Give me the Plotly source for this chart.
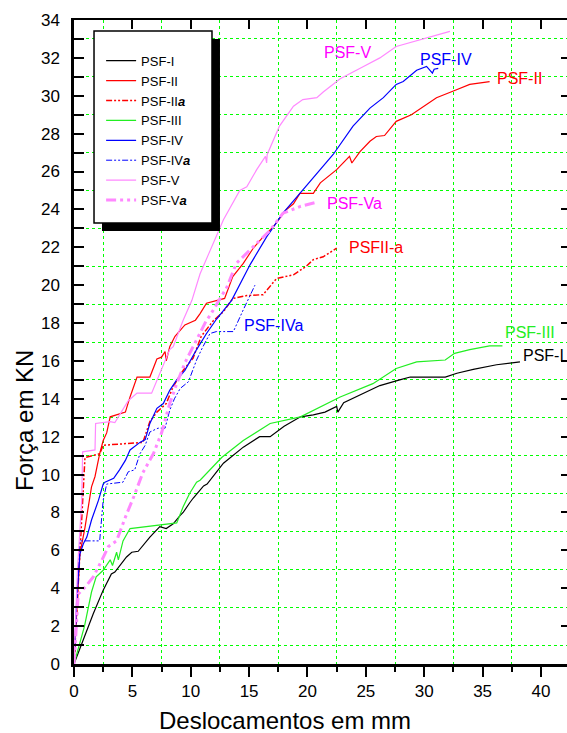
import plotly.graph_objects as go

# ---- data (displacement mm, force kN) ----
psf1_x = [0, 1.65, 2.5, 3.2, 3.5, 4.5, 4.95, 5.5, 6.5, 7.35, 7.9, 8.5, 9.1, 9.35, 9.9, 10.2, 11.1, 11.4, 12.8, 14.5, 15.9, 16.8, 18.0, 19.4, 20.5, 21.5, 22.5, 22.6, 23.1, 24.5, 26.2, 27.9, 28.8, 31.8, 32.8, 34.2, 36.2, 38.2]
psf1_y = [0, 2.65, 3.9, 4.75, 4.85, 5.65, 5.9, 5.95, 6.7, 7.25, 7.15, 7.4, 7.85, 8.0, 8.5, 8.75, 9.4, 9.5, 10.6, 11.45, 12.0, 12.0, 12.55, 13.05, 13.15, 13.3, 13.6, 13.3, 13.8, 14.2, 14.7, 15.0, 15.15, 15.15, 15.35, 15.55, 15.8, 15.95]

psf2_x = [0, 0.5, 0.94, 1.2, 1.5, 1.8, 2.2, 2.5, 2.8, 3.1, 3.35, 4.4, 4.8, 5.4, 6.5, 7.1, 7.5, 7.8, 7.9, 8.2, 8.65, 9.5, 10.4, 10.8, 11.35, 12.2, 12.9, 13.6, 14.5, 15.35, 16.2, 17.1, 18.2, 18.8, 19.35, 20.5, 21.1, 22.5, 23.6, 23.8, 24.5, 25.35, 25.9, 26.6, 27.6, 28.9, 31.05, 32.5, 33.9, 35.6]
psf2_y = [0, 5.8, 7.2, 8.1, 9.35, 9.9, 11.1, 11.8, 12.2, 13.05, 13.1, 13.3, 14.1, 15.15, 15.15, 16.1, 16.2, 16.5, 16.0, 16.75, 17.3, 17.9, 18.15, 18.5, 19.05, 19.2, 19.3, 20.45, 21.15, 21.95, 22.55, 23.1, 24.0, 24.3, 24.85, 24.85, 25.4, 26.1, 26.8, 26.45, 27.05, 27.6, 27.85, 27.9, 28.65, 29.0, 29.9, 30.25, 30.6, 30.75]

psf2a_x = [0, 0.3, 0.5, 0.8, 0.94, 2.2, 2.5, 5.9, 6.5, 7.1, 7.9, 8.5, 9.35, 10.2, 10.9, 11.9, 12.8, 13.6, 14.8, 16.2, 16.8, 17.35, 18.8, 19.9, 20.5, 21.35, 22.5]
psf2a_y = [0, 3.5, 6.5, 9.5, 10.9, 11.1, 11.55, 11.7, 12.8, 13.3, 13.75, 14.65, 15.5, 16.15, 17.3, 18.1, 18.6, 19.3, 19.45, 19.5, 19.95, 20.35, 20.55, 21.0, 21.35, 21.5, 21.95]

psf3_x = [0, 0.9, 1.5, 1.9, 2.5, 3.1, 3.3, 3.65, 3.8, 4.2, 4.8, 8.8, 9.35, 9.9, 10.5, 10.8, 12.65, 14.5, 16.8, 19.4, 22.8, 25.6, 27.6, 29.35, 31.8, 32.6, 33.9, 35.6, 36.7]
psf3_y = [0, 2.0, 3.8, 4.6, 4.95, 5.5, 5.2, 5.9, 5.5, 6.5, 7.15, 7.45, 8.3, 9.0, 9.6, 9.7, 10.9, 11.8, 12.7, 13.05, 14.1, 14.8, 15.6, 15.95, 16.05, 16.4, 16.6, 16.8, 16.8]

psf4_x = [0, 0.23, 0.5, 0.8, 1.1, 1.5, 2.1, 2.5, 2.65, 3.4, 3.9, 4.4, 4.8, 5.65, 6.1, 6.5, 7.1, 7.65, 8.2, 8.8, 9.5, 10.5, 11.35, 12.2, 13.5, 15.1, 16.5, 17.9, 19.35, 20.35, 22.2, 23.9, 25.35, 26.5, 27.6, 28.2, 29.35, 30.2, 30.5, 30.7, 30.85, 31.2]
psf4_y = [0, 3.35, 5.8, 6.35, 6.7, 7.6, 8.65, 9.5, 9.6, 9.8, 10.25, 10.75, 11.3, 11.7, 11.85, 12.7, 13.5, 13.75, 14.45, 15.0, 15.5, 16.6, 17.45, 18.2, 19.2, 21.1, 22.55, 23.8, 24.85, 25.55, 26.9, 28.4, 29.35, 29.9, 30.6, 30.75, 31.35, 31.55, 31.35, 31.2, 31.4, 31.45]

psf4a_x = [0, 0.3, 0.5, 0.8, 2.2, 2.5, 2.8, 4.2, 4.65, 5.2, 5.65, 6.1, 6.5, 7.2, 7.8, 8.2, 8.6, 9.1, 9.8, 10.5, 11.0, 11.65, 12.2, 12.8, 13.65, 14.5, 15.5]
psf4a_y = [0, 4.0, 6.5, 6.5, 6.5, 8.65, 9.5, 9.6, 10.15, 10.25, 11.1, 11.55, 12.25, 12.45, 12.45, 13.4, 14.0, 14.55, 14.9, 16.05, 16.7, 17.45, 17.55, 17.55, 17.55, 18.7, 20.0]

psf5_x = [0, 0.3, 0.66, 0.74, 1.8, 1.85, 3.1, 3.5, 4.65, 5.4, 6.65, 7.9, 8.2, 8.5, 9.35, 10.1, 10.8, 11.5, 12.2, 12.8, 14.2, 14.8, 15.65, 16.4, 16.5, 16.55, 17.6, 18.8, 19.6, 20.8, 21.35, 22.8, 24.8, 26.2, 27.6, 32.2]
psf5_y = [0, 5.0, 8.6, 11.2, 11.3, 12.7, 12.8, 12.75, 13.9, 14.3, 14.3, 16.1, 16.6, 16.75, 18.15, 19.2, 20.6, 21.6, 22.6, 23.45, 25.0, 25.2, 26.1, 26.8, 26.45, 26.9, 28.4, 29.45, 29.8, 29.9, 30.2, 30.9, 31.55, 32.0, 32.6, 33.4]

psf5a_x = [0, 0.37, 0.94, 1.65, 2.4, 2.95, 3.65, 4.4, 5.1, 5.9, 6.8, 7.5, 8.2, 8.8, 9.5, 10.5, 11.35, 11.65, 13.1, 13.9, 15.35, 16.8, 17.9, 19.35, 20.6]
psf5a_y = [0, 3.7, 4.05, 4.6, 5.5, 6.2, 6.5, 7.75, 8.8, 10.1, 11.1, 12.2, 13.75, 14.8, 15.9, 17.1, 18.15, 18.4, 19.9, 21.15, 22.05, 22.9, 23.8, 24.15, 24.35]

labels = ["PSF-V", "PSF-IV", "PSF-II", "PSF-Va", "PSFII-a", "PSF-IVa", "PSF-III", "PSF-I"]
label_x = [23.4, 31.9, 38.2, 24.0, 25.9, 17.1, 39.1, 40.2]
label_y = [32.3, 31.9, 30.9, 24.3, 22.0, 17.85, 17.5, 16.3]
label_colors = ["#ff00ff", "#0000ff", "#ff0000", "#ff00ff", "#ff0000", "#0000ff", "#22ee22", "#000000"]

FONT = "Liberation Sans, Arial, sans-serif"
DDOT = "6px,2px,2px,2px,2px,2px"

fig = go.Figure()
series = [
    ("PSF-I", psf1_x, psf1_y, "#000000", 1.2, "solid"),
    ("PSF-II", psf2_x, psf2_y, "#ff0000", 1.2, "solid"),
    ("PSF-II<b><i>a</i></b>", psf2a_x, psf2a_y, "#ff0000", 1.5, DDOT),
    ("PSF-III", psf3_x, psf3_y, "#22ee22", 1.2, "solid"),
    ("PSF-IV", psf4_x, psf4_y, "#0000ff", 1.2, "solid"),
    ("PSF-IV<b><i>a</i></b>", psf4a_x, psf4a_y, "#0000ff", 1.0, DDOT),
    ("PSF-V", psf5_x, psf5_y, "#ff88ff", 1.2, "solid"),
    ("PSF-V<b><i>a</i></b>", psf5a_x, psf5a_y, "#ff88ff", 3.0, "10px,4px,3px,4px,3px,4px"),
]
for name, xs, ys, col, w, dash in series:
    fig.add_trace(go.Scatter(x=xs, y=ys, mode="lines", name=name,
                             line=dict(color=col, width=w, dash=dash)))

# empty trace to activate mirrored top/right axes
fig.add_trace(go.Scatter(x=[None], y=[None], xaxis="x2", yaxis="y2",
                         showlegend=False, hoverinfo="skip"))

for t, lx, ly, c in zip(labels, label_x, label_y, label_colors):
    fig.add_annotation(x=lx, y=ly, text=t, showarrow=False, xref="x", yref="y",
                       xanchor="center", yanchor="middle",
                       font=dict(family=FONT, size=16, color=c))

fig.add_annotation(x=0.428, y=-0.087, xref="paper", yref="paper", text="Deslocamentos em mm",
                   xanchor="center", yanchor="middle",
                   showarrow=False, font=dict(family=FONT, size=24, color="black"))
fig.add_annotation(x=-0.0994, y=0.379, xref="paper", yref="paper", text="Força em KN",
                   xanchor="center", yanchor="middle",
                   textangle=-90, showarrow=False, font=dict(family=FONT, size=24, color="black"))

# legend frame with shadow
fig.add_shape(type="rect", xref="paper", yref="paper", x0=0.0568, x1=0.2961, y0=0.6724, y1=0.9705,
              fillcolor="black", line=dict(color="black", width=0))
fig.add_shape(type="rect", xref="paper", yref="paper", x0=0.0406, x1=0.2799, y0=0.6848, y1=0.9829,
              fillcolor="white", line=dict(color="black", width=1.5))

grid = dict(showgrid=True, gridcolor="#00ff00", griddash="dot", gridwidth=1)

fig.update_layout(
    width=567, height=733,
    margin=dict(l=74, r=0, t=20, b=69),
    paper_bgcolor="white", plot_bgcolor="white",
    font=dict(family=FONT, color="black"),
    showlegend=True,
    legend=dict(x=0.055, y=0.96, xanchor="left", yanchor="top",
                bgcolor="rgba(0,0,0,0)", borderwidth=0,
                font=dict(family=FONT, size=13, color="black")),
    xaxis=dict(range=[0, 42.23], showline=True, linewidth=2.5, linecolor="black",
               ticks="outside", ticklen=10, tickwidth=2, tickcolor="black",
               tick0=0, dtick=5, showgrid=False, zeroline=False,
               tickfont=dict(size=17, family=FONT, color="black"),
               minor=dict(tick0=0, dtick=2.5, ticks="outside", ticklen=5, tickwidth=2,
                          tickcolor="black", **grid)),
    yaxis=dict(range=[0, 34], showline=True, linewidth=2.5, linecolor="black",
               ticks="inside", ticklen=10, tickwidth=2, tickcolor="black",
               tick0=0, dtick=2, showgrid=False, zeroline=False, ticklabelstandoff=8,
               tickfont=dict(size=17, family=FONT, color="black"),
               minor=dict(tick0=0, dtick=1, ticks="inside", ticklen=10, tickwidth=2,
                          tickcolor="black", **grid)),
    xaxis2=dict(overlaying="x", side="top", anchor="y2", matches="x",
                showline=True, linewidth=2, linecolor="black",
                ticks="inside", ticklen=9, tickwidth=2, tickcolor="black",
                tick0=0, dtick=5, showticklabels=False, showgrid=False, zeroline=False),
    yaxis2=dict(overlaying="y", side="right", anchor="x2", matches="y",
                showline=False, ticks="inside", ticklen=6, tickwidth=2, tickcolor="black",
                tick0=0, dtick=2, showticklabels=False, showgrid=False, zeroline=False),
)

fig.write_html("out.html")
